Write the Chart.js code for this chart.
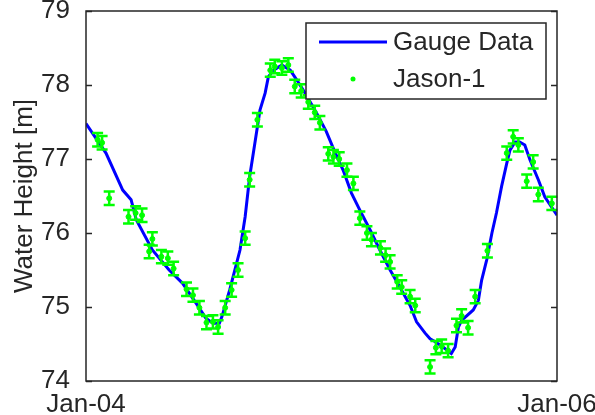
<!DOCTYPE html>
<html>
<head>
<meta charset="utf-8">
<script src="https://cdn.jsdelivr.net/npm/chart.js@4"></script>
<style>
  html, body { margin: 0; padding: 0; background: #fff; }
</style>
</head>
<body>
<canvas id="myChart" width="595" height="415"></canvas>
<script>
// days counted from 1 Jan 2004
const gaugeDays = [0, 31, 57, 70, 78, 103, 129, 150, 171, 186, 197, 207, 211, 223, 239, 247, 254, 262, 270, 278, 283, 291, 304, 317, 327, 340, 358, 373, 386, 399, 412, 425, 441, 456, 472, 487, 503, 513, 526, 534, 542, 554, 567, 573, 578, 583, 601, 609, 614, 622, 630, 637, 645, 653, 658, 666, 673, 681, 689, 702, 712, 731];
const gaugeHeight = [77.48, 77.08, 76.58, 76.45, 76.18, 75.77, 75.50, 75.32, 75.05, 74.85, 74.78, 74.78, 74.87, 75.23, 75.77, 76.22, 76.76, 77.21, 77.66, 77.89, 78.11, 78.20, 78.27, 78.20, 78.07, 77.89, 77.62, 77.37, 77.10, 76.85, 76.54, 76.31, 76.04, 75.77, 75.50, 75.27, 75.02, 74.80, 74.65, 74.57, 74.53, 74.46, 74.37, 74.46, 74.73, 74.82, 74.96, 75.09, 75.36, 75.64, 76.00, 76.27, 76.63, 76.94, 77.12, 77.23, 77.23, 77.19, 76.99, 76.72, 76.49, 76.24];

const jasonDays = [18, 25, 36, 66, 77, 87, 98, 103, 117, 127, 136, 156, 166, 176, 187, 197, 205, 216, 226, 236, 247, 254, 266, 286, 293, 304, 314, 324, 334, 345, 355, 363, 376, 384, 393, 405, 415, 425, 436, 443, 457, 465, 472, 483, 490, 503, 511, 534, 543, 552, 562, 575, 583, 593, 604, 623, 653, 663, 671, 684, 694, 702, 723];
const jasonHeight = [77.26, 77.22, 76.47, 76.22, 76.27, 76.24, 75.75, 75.92, 75.68, 75.66, 75.52, 75.24, 75.16, 74.99, 74.79, 74.80, 74.73, 74.99, 75.23, 75.50, 75.93, 76.72, 77.53, 78.20, 78.25, 78.23, 78.27, 77.98, 77.92, 77.77, 77.63, 77.49, 77.07, 77.03, 77.00, 76.85, 76.67, 76.20, 76.00, 75.91, 75.80, 75.70, 75.61, 75.34, 75.27, 75.14, 75.02, 74.19, 74.45, 74.47, 74.41, 74.75, 74.88, 74.72, 75.14, 75.76, 77.08, 77.30, 77.19, 76.70, 76.96, 76.52, 76.40];
const jasonErr = 0.09;

const tickDays = [0, 731];
const tickLabels = ['Jan-04', 'Jan-06'];

const FONT = "'Liberation Sans', Arial, sans-serif";
const INK = '#262626';

// error bars for the altimetry points
const errorBars = {
  id: 'errorBars',
  afterDatasetsDraw(chart) {
    const { ctx, scales: { x, y } } = chart;
    ctx.save();
    ctx.strokeStyle = '#00ff00';
    ctx.lineWidth = 2.5;
    jasonDays.forEach((d, i) => {
      const px = x.getPixelForValue(d);
      const top = y.getPixelForValue(jasonHeight[i] + jasonErr);
      const bot = y.getPixelForValue(jasonHeight[i] - jasonErr);
      ctx.beginPath();
      ctx.moveTo(px, top); ctx.lineTo(px, bot);
      ctx.moveTo(px - 5.5, top); ctx.lineTo(px + 5.5, top);
      ctx.moveTo(px - 5.5, bot); ctx.lineTo(px + 5.5, bot);
      ctx.stroke();
    });
    ctx.restore();
  }
};

// axes box with inward ticks, plus the boxed legend
const frame = {
  id: 'frame',
  afterDraw(chart) {
    const { ctx, chartArea: a, scales: { y } } = chart;
    ctx.save();
    ctx.strokeStyle = INK;
    ctx.lineWidth = 1.5;
    ctx.strokeRect(a.left, a.top, a.right - a.left, a.bottom - a.top);
    ctx.beginPath();
    y.ticks.forEach(t => {
      const py = Math.round(y.getPixelForValue(t.value)) + 0.5;
      ctx.moveTo(a.left, py); ctx.lineTo(a.left + 6, py);
      ctx.moveTo(a.right, py); ctx.lineTo(a.right - 6, py);
    });
    ctx.stroke();

    // legend
    const ds = chart.data.datasets;
    ctx.fillStyle = '#fff';
    ctx.fillRect(306, 23, 240, 76);
    ctx.strokeRect(306, 23, 240, 76);
    ctx.strokeStyle = '#0000ff';
    ctx.lineWidth = 3;
    ctx.beginPath();
    ctx.moveTo(319, 42); ctx.lineTo(387, 42);
    ctx.stroke();
    ctx.fillStyle = '#00ff00';
    ctx.beginPath();
    ctx.arc(353, 79, 2.5, 0, Math.PI * 2);
    ctx.fill();
    ctx.fillStyle = INK;
    ctx.font = '26px ' + FONT;
    ctx.textBaseline = 'middle';
    ctx.fillText(ds[0].label, 393, 43);
    ctx.fillText(ds[1].label, 393, 80);
    ctx.restore();
  }
};

new Chart(document.getElementById('myChart'), {
  type: 'line',
  data: {
    datasets: [{
      label: 'Gauge Data',
      data: gaugeDays.map((d, i) => ({ x: d, y: gaugeHeight[i] })),
      borderColor: '#0000ff',
      borderWidth: 3,
      pointRadius: 0,
      tension: 0,
      order: 2
    }, {
      label: 'Jason-1',
      type: 'scatter',
      data: jasonDays.map((d, i) => ({ x: d, y: jasonHeight[i] })),
      backgroundColor: '#00ff00',
      borderColor: '#00ff00',
      pointRadius: 2.5,
      order: 1
    }]
  },
  options: {
    responsive: false,
    animation: false,
    devicePixelRatio: 1,
    layout: { padding: { top: 11, right: 38, left: 0, bottom: 0 } },
    plugins: { legend: { display: false }, tooltip: { enabled: false } },
    scales: {
      x: {
        type: 'linear',
        min: 0,
        max: 731,
        grid: { display: false },
        border: { display: false },
        afterBuildTicks: s => { s.ticks = tickDays.map(v => ({ value: v })); },
        afterFit: s => { s.height = 34; s.paddingLeft = 0; s.paddingRight = 0; },
        ticks: {
          autoSkip: false,
          maxRotation: 0,
          padding: 0,
          color: INK,
          font: { family: FONT, size: 26 },
          callback: v => tickLabels[tickDays.indexOf(v)]
        }
      },
      y: {
        min: 74,
        max: 79,
        grid: { display: false },
        border: { display: false },
        afterFit: s => { s.width = 86; s.paddingTop = 0; s.paddingBottom = 0; },
        ticks: {
          stepSize: 1,
          padding: 8,
          color: INK,
          font: { family: FONT, size: 26 }
        },
        title: {
          display: true,
          text: 'Water Height [m]',
          color: INK,
          font: { family: FONT, size: 26 },
          padding: { top: 9, bottom: 0 }
        }
      }
    }
  },
  plugins: [errorBars, frame]
});
</script>
</body>
</html>
